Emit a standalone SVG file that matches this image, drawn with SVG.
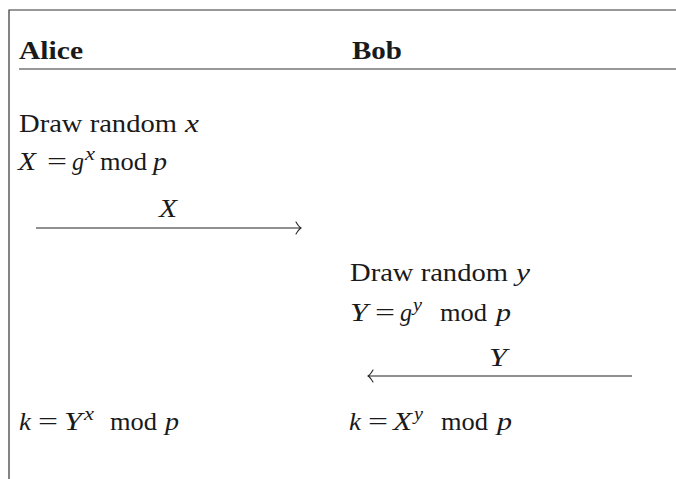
<svg xmlns="http://www.w3.org/2000/svg" width="676" height="479" viewBox="0 0 676 479">
<style>
  text { font-family: "Liberation Serif", "Times New Roman", serif; font-size: 25px; fill: #1a1a1a; }
  .b { font-weight: bold; }
  .i { font-style: italic; }
  .sup { font-size: 18px; font-style: italic; }
  .frame { stroke: #333; stroke-width: 1.2; fill: none; }
  .msg { stroke: #222; stroke-width: 1.2; fill: none; }
  .head { stroke: #222; stroke-width: 1.1; fill: none; stroke-linecap: round; }
</style>
<defs>
  <marker id="arr" viewBox="-7 -7 8 14" markerWidth="8" markerHeight="14" refX="0" refY="0" orient="auto" markerUnits="userSpaceOnUse">
    <path class="head" d="M-5,-6 Q-2,-1 0,0 Q-2,1 -5,6"/>
  </marker>
</defs>
<rect width="676" height="479" fill="#fff"/>
<g id="frame">
  <path class="frame" d="M9,479 V10 H676"/>
  <line class="frame" x1="19" y1="69" x2="676" y2="69"/>
</g>
<g id="alice-header"><text class="b" x="19" y="59" textLength="64" lengthAdjust="spacingAndGlyphs">Alice</text></g>
<g id="bob-header"><text class="b" x="352" y="59" textLength="50" lengthAdjust="spacingAndGlyphs">Bob</text></g>

<g id="alice-draw">
  <text x="19" y="132" textLength="158" lengthAdjust="spacingAndGlyphs">Draw random</text>
  <text class="i" x="185" y="132" textLength="14" lengthAdjust="spacingAndGlyphs">x</text>
</g>
<g id="alice-X">
  <text class="i" x="18" y="170" textLength="18" lengthAdjust="spacingAndGlyphs">X</text>
  <text x="47" y="170" textLength="20" lengthAdjust="spacingAndGlyphs">=</text>
  <text class="i" x="72" y="170" textLength="12" lengthAdjust="spacingAndGlyphs">g</text>
  <text class="sup" x="85" y="160" textLength="10" lengthAdjust="spacingAndGlyphs">x</text>
  <text x="100" y="170" textLength="47" lengthAdjust="spacingAndGlyphs">mod</text>
  <text class="i" x="153" y="170" textLength="14" lengthAdjust="spacingAndGlyphs">p</text>
</g>

<g id="bob-draw">
  <text x="350" y="281" textLength="158" lengthAdjust="spacingAndGlyphs">Draw random</text>
  <text class="i" x="516" y="281" textLength="14" lengthAdjust="spacingAndGlyphs">y</text>
</g>
<g id="bob-Y">
  <text class="i" x="350" y="321" textLength="18" lengthAdjust="spacingAndGlyphs">Y</text>
  <text x="375" y="321" textLength="20" lengthAdjust="spacingAndGlyphs">=</text>
  <text class="i" x="400" y="321" textLength="12" lengthAdjust="spacingAndGlyphs">g</text>
  <text class="sup" x="413" y="311" textLength="9" lengthAdjust="spacingAndGlyphs">y</text>
  <text x="440" y="321" textLength="47" lengthAdjust="spacingAndGlyphs">mod</text>
  <text class="i" x="496" y="321" textLength="15" lengthAdjust="spacingAndGlyphs">p</text>
</g>

<g id="alice-k">
  <text class="i" x="19" y="430" textLength="12" lengthAdjust="spacingAndGlyphs">k</text>
  <text x="38" y="430" textLength="20" lengthAdjust="spacingAndGlyphs">=</text>
  <text class="i" x="64" y="430" textLength="18" lengthAdjust="spacingAndGlyphs">Y</text>
  <text class="sup" x="84" y="420" textLength="10" lengthAdjust="spacingAndGlyphs">x</text>
  <text x="110" y="430" textLength="47" lengthAdjust="spacingAndGlyphs">mod</text>
  <text class="i" x="165" y="430" textLength="14" lengthAdjust="spacingAndGlyphs">p</text>
</g>
<g id="bob-k">
  <text class="i" x="349" y="430" textLength="12" lengthAdjust="spacingAndGlyphs">k</text>
  <text x="368" y="430" textLength="20" lengthAdjust="spacingAndGlyphs">=</text>
  <text class="i" x="393" y="430" textLength="19" lengthAdjust="spacingAndGlyphs">X</text>
  <text class="sup" x="414" y="420" textLength="9" lengthAdjust="spacingAndGlyphs">y</text>
  <text x="441" y="430" textLength="47" lengthAdjust="spacingAndGlyphs">mod</text>
  <text class="i" x="497" y="430" textLength="15" lengthAdjust="spacingAndGlyphs">p</text>
</g>

<g id="connectors">
  <line class="msg" x1="36" y1="228" x2="301" y2="228" marker-end="url(#arr)"/>
  <text class="i" x="159" y="217" textLength="18" lengthAdjust="spacingAndGlyphs">X</text>
  <line class="msg" x1="632" y1="376" x2="368" y2="376" marker-end="url(#arr)"/>
  <text class="i" x="489" y="366" textLength="18" lengthAdjust="spacingAndGlyphs">Y</text>
</g>
</svg>
